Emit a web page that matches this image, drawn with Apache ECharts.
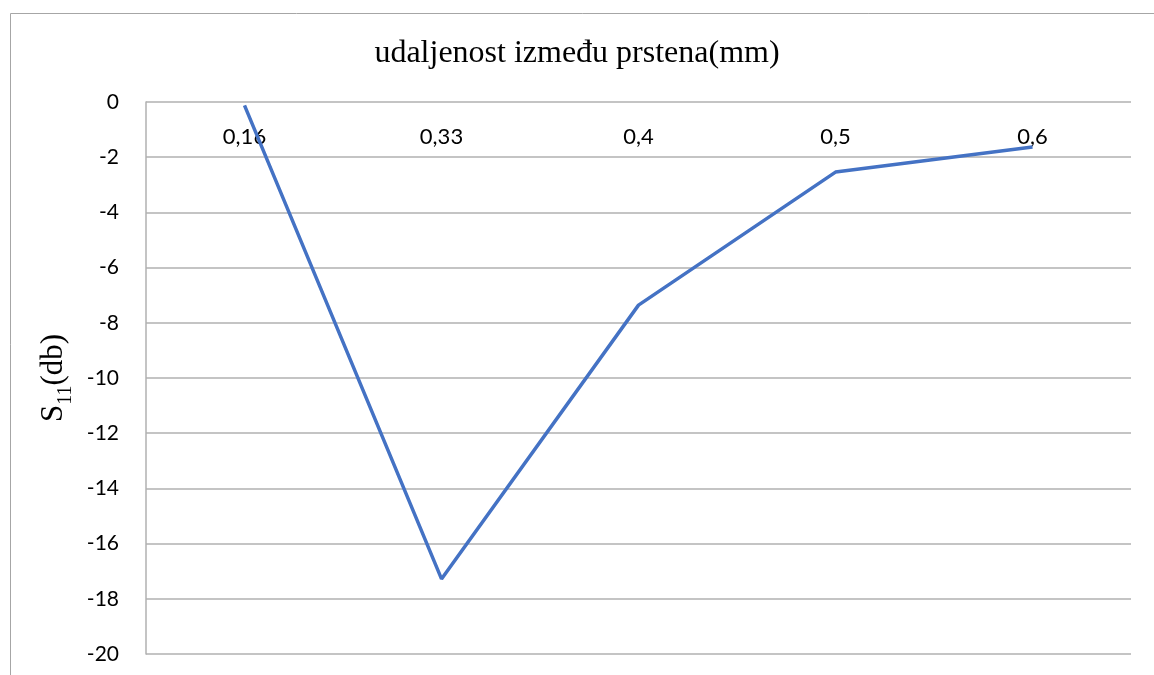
<!DOCTYPE html>
<html><head><meta charset="utf-8">
<script src="https://cdn.jsdelivr.net/npm/echarts@6/dist/echarts.min.js"></script>
<style>html,body{margin:0;padding:0;background:#fff}#c{width:1154px;height:675px}</style>
</head><body><div id="c"></div>
<script>
const categories = ['0,16', '0,33', '0,4', '0,5', '0,6'];
const s11Values = [-0.12, -17.28, -7.36, -2.54, -1.63];
const yTicks = { min: -20, max: 0, interval: 2 };
const titleText = 'udaljenost između prstena(mm)';

const chart = echarts.init(document.getElementById('c'));
chart.setOption({
  backgroundColor: '#fff',
  animation: false,
  graphic: [{
    type: 'rect', left: 8, top: 11, shape: { width: 1300, height: 800 },
    style: { fill: 'none', stroke: '#a6a6a6', lineWidth: 1 }, silent: true
  }],
  title: {
    text: titleText, left: 'center', top: 33,
    textStyle: { fontFamily: 'Liberation Serif', fontSize: 32, fontWeight: 'normal', color: '#000' }
  },
  grid: { left: 146, right: 23, top: 102, bottom: 21, containLabel: false },
  xAxis: {
    type: 'category', data: categories, position: 'top',
    axisLine: { show: false }, axisTick: { show: false },
    axisLabel: { inside: true, margin: 24, fontFamily: 'Lato', fontSize: 22, color: '#000' },
    splitLine: { show: false }
  },
  yAxis: {
    type: 'value', min: yTicks.min, max: yTicks.max, interval: yTicks.interval,
    axisLine: { show: true, lineStyle: { color: '#b0b0b0', width: 1.5 } },
    axisTick: { show: false },
    axisLabel: { margin: 27, fontFamily: 'Lato', fontSize: 21, color: '#000' },
    splitLine: { show: true, lineStyle: { color: '#b0b0b0', width: 1.5 } },
    name: '{a|S}{b|11}{a|(db)}', nameLocation: 'middle', nameGap: 68, nameRotate: 90,
    nameTextStyle: {
      rich: {
        a: { fontFamily: 'Liberation Serif', fontSize: 31, color: '#000', verticalAlign: 'bottom' },
        b: { fontFamily: 'Liberation Serif', fontSize: 20, color: '#000', verticalAlign: 'bottom', padding: [0, 0, -7, 0] }
      }
    }
  },
  series: [{
    type: 'line', data: s11Values, symbol: 'none',
    lineStyle: { color: '#4472C4', width: 3.5 }, itemStyle: { color: '#4472C4' }
  }]
});
</script></body></html>
